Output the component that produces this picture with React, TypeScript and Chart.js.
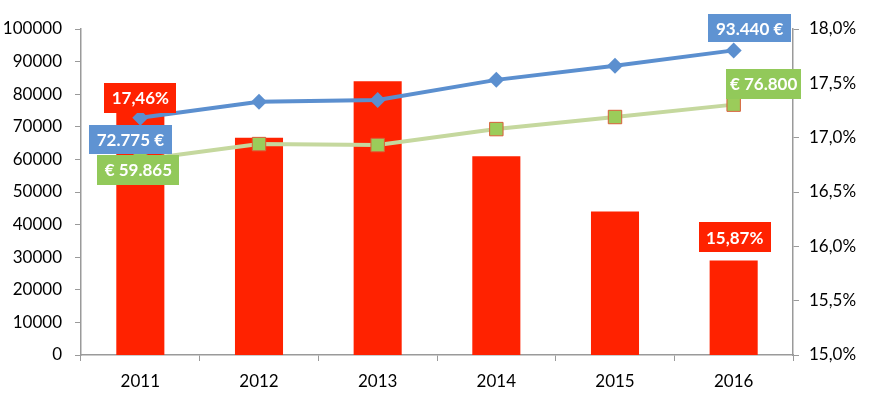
import React, { useEffect, useRef } from "react";
import { Chart, registerables } from "chart.js";

Chart.register(...registerables);

const years = ["2011", "2012", "2013", "2014", "2015", "2016"];
const sharePct = [17.46, 17.0, 17.52, 16.83, 16.32, 15.87];
const blueValues = [72775, 77700, 78200, 84400, 88700, 93440];
const greenValues = [59865, 64700, 64400, 69300, 73000, 76800];

const FONT = "Lato, 'Open Sans', sans-serif";
const RED = "#ff2200";
const BLUE = "#5b8fcf";
const BLUE_BOX = "#5f93d2";
const GREEN_LINE = "#c5d89e";
const GREEN_BOX = "#92c95a";
const GREEN_MARK = "#9bcc5a";

const fmtEuro = (v: number) => v.toLocaleString("de-DE");
const fmtPct = (v: number) => v.toFixed(2).replace(".", ",") + "%";

type LabelSpec = {
  ds: number;
  idx: number;
  text: (v: number) => string;
  bg: string;
  dx: number;
  dy: number;
  w: number;
  h: number;
};

const labelSpecs: LabelSpec[] = [
  { ds: 2, idx: 0, text: fmtPct, bg: RED, dx: 0, dy: 10, w: 72, h: 30 },
  { ds: 2, idx: 5, text: fmtPct, bg: RED, dx: 1, dy: -23, w: 72, h: 30 },
  { ds: 0, idx: 0, text: (v) => `${fmtEuro(v)} €`, bg: BLUE_BOX, dx: -10, dy: 22, w: 83, h: 29 },
  { ds: 0, idx: 5, text: (v) => `${fmtEuro(v)} €`, bg: BLUE_BOX, dx: 16, dy: -22, w: 83, h: 28 },
  { ds: 1, idx: 0, text: (v) => `€ ${fmtEuro(v)}`, bg: GREEN_BOX, dx: -2, dy: 10, w: 82, h: 30 },
  { ds: 1, idx: 5, text: (v) => `€ ${fmtEuro(v)}`, bg: GREEN_BOX, dx: 30, dy: -21, w: 75, h: 30 },
];

const labelPlugin = {
  id: "boxLabels",
  afterDatasetsDraw(chart: any) {
    const ctx = chart.ctx;
    ctx.save();
    ctx.font = `bold 17px ${FONT}`;
    ctx.textAlign = "center";
    ctx.textBaseline = "middle";
    for (const s of labelSpecs) {
      const meta = chart.getDatasetMeta(s.ds);
      const el = meta.data[s.idx];
      const v = chart.data.datasets[s.ds].data[s.idx] as number;
      const cx = el.x + s.dx;
      const cy = el.y + s.dy;
      ctx.fillStyle = s.bg;
      ctx.fillRect(Math.round(cx - s.w / 2), Math.round(cy - s.h / 2), s.w, s.h);
      ctx.fillStyle = "#ffffff";
      ctx.fillText(s.text(v), cx, cy + 1);
    }
    ctx.restore();
  },
};

export default function App() {
  const ref = useRef<HTMLCanvasElement>(null);
  useEffect(() => {
    if (!ref.current) return;
    const chart = new Chart(ref.current, {
      type: "bar",
      data: {
        labels: years,
        datasets: [
          {
            type: "line",
            label: "blue",
            data: blueValues,
            yAxisID: "y",
            borderColor: BLUE,
            backgroundColor: BLUE,
            borderWidth: 4,
            pointStyle: "rectRot",
            pointRadius: 8,
            pointBorderWidth: 0,
            pointBackgroundColor: BLUE,
            tension: 0,
            order: 0,
          } as any,
          {
            type: "line",
            label: "green",
            data: greenValues,
            yAxisID: "y",
            borderColor: GREEN_LINE,
            backgroundColor: GREEN_MARK,
            borderWidth: 4,
            pointStyle: "rect",
            pointRadius: 9.5,
            pointBorderWidth: 1,
            pointBorderColor: "#d8603a",
            pointBackgroundColor: GREEN_MARK,
            tension: 0,
            order: 0,
          } as any,
          {
            type: "bar",
            label: "share",
            data: sharePct,
            yAxisID: "y1",
            backgroundColor: RED,
            barPercentage: 1,
            categoryPercentage: 0.405,
            order: 1,
          },
        ],
      },
      options: {
        responsive: false,
        animation: false,
        layout: { padding: { top: 29, left: 0, right: 0, bottom: 0 } },
        plugins: { legend: { display: false }, tooltip: { enabled: false } },
        scales: {
          x: {
            grid: { display: true, drawOnChartArea: false, tickLength: 6, color: "#9a9a9a", offset: true },
            border: { color: "#9a9a9a", width: 1.5 },
            ticks: { color: "#000", font: { family: FONT, size: 17 }, padding: 10 },
            afterFit: (s: any) => { s.height = 49; },
          },
          y: {
            position: "left",
            min: 0,
            max: 100000,
            grid: { display: true, drawOnChartArea: false, tickLength: 6, color: "#9a9a9a" },
            border: { color: "#9a9a9a", width: 1.5 },
            ticks: { stepSize: 10000, color: "#000", font: { family: FONT, size: 17 }, padding: 13, callback: (v: any) => String(v) },
            afterFit: (s: any) => { s.width = 81; },
          },
          y1: {
            position: "right",
            min: 15,
            max: 18,
            grid: { display: true, drawOnChartArea: false, tickLength: 6, color: "#9a9a9a" },
            border: { color: "#9a9a9a", width: 1.5 },
            ticks: {
              stepSize: 0.5,
              color: "#000",
              font: { family: FONT, size: 17 },
              padding: 10,
              callback: (v: any) => Number(v).toFixed(1).replace(".", ",") + "%",
            },
            afterFit: (s: any) => { s.width = 82; },
          },
        },
      },
      plugins: [labelPlugin],
    });
    return () => chart.destroy();
  }, []);
  return (
    <div style={{ position: "absolute", left: 0, top: 0, width: 875, height: 404, background: "#fff" }}>
      <canvas ref={ref} width={875} height={404} />
    </div>
  );
}
